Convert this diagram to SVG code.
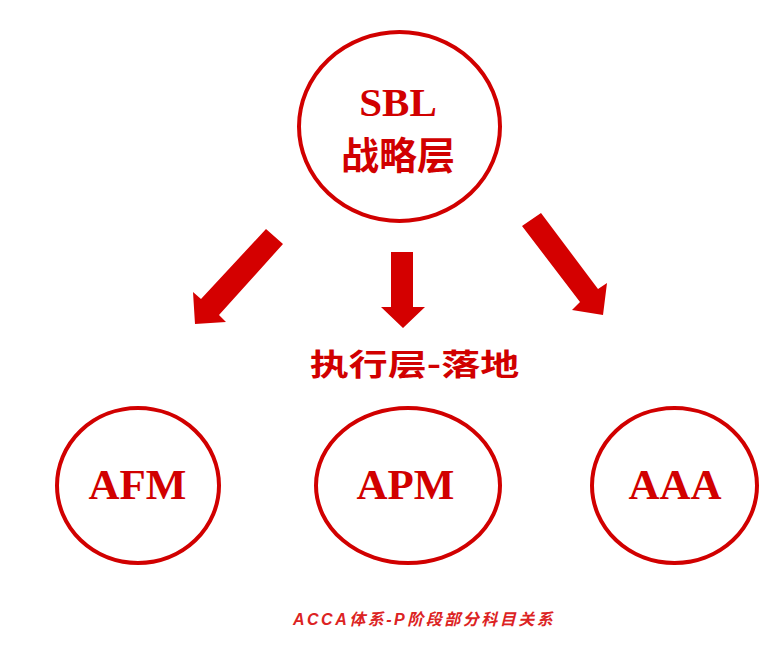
<svg xmlns="http://www.w3.org/2000/svg" width="780" height="654" viewBox="0 0 780 654">
  <style>
    .node { fill: #ffffff; stroke: #d10000; stroke-width: 4; }
    .lbl { font-family: "Liberation Serif", "Noto Sans CJK SC", serif; font-weight: bold; fill: #d10000; text-anchor: middle; }
    .cjk { font-family: "Noto Sans CJK SC", "Liberation Serif", sans-serif; font-weight: bold; fill: #d10000; text-anchor: middle; }
    .arrow { fill: #d40000; }
    .caption { font-family: "Liberation Sans", "Noto Sans CJK SC", sans-serif; font-weight: bold; font-style: italic; fill: #dc2323; font-size: 16px; letter-spacing: 2.5px; }
  </style>
  <rect width="780" height="654" fill="#ffffff"/>

  <g id="node-sbl">
    <ellipse class="node" cx="399.5" cy="126.5" rx="100.5" ry="94.5"/>
    <text class="lbl" x="398" y="116" font-size="41">SBL</text>
    <text class="cjk" x="398" y="169" font-size="38">战略层</text>
  </g>

  <g id="connectors">
    <polygon class="arrow" points="266,229 283,244 219,315 226,322 195,324 193,292 201,299"/>
    <polygon class="arrow" points="391,252 413,252 413,307 425,307 403,328 381,307 391,307"/>
    <polygon class="arrow" points="541,213 598,289 607,283 603,315 572,310 580,302 522,226"/>
  </g>

  <g id="label-exec">
    <text class="cjk" font-size="30" transform="translate(414.5,375) scale(1.3,1)">执行层-落地</text>
  </g>

  <g id="node-afm">
    <ellipse class="node" cx="138" cy="485.5" rx="81" ry="77.5"/>
    <text class="lbl" x="137.5" y="499" font-size="43">AFM</text>
  </g>

  <g id="node-apm">
    <ellipse class="node" cx="408" cy="485.5" rx="92" ry="77.5"/>
    <text class="lbl" x="405.5" y="499" font-size="43">APM</text>
  </g>

  <g id="node-aaa">
    <ellipse class="node" cx="674.5" cy="485.5" rx="82.5" ry="77.5"/>
    <text class="lbl" x="675" y="499" font-size="43">AAA</text>
  </g>

  <g id="caption">
    <text class="caption" x="293" y="625">ACCA体系-P阶段部分科目关系</text>
  </g>
</svg>
